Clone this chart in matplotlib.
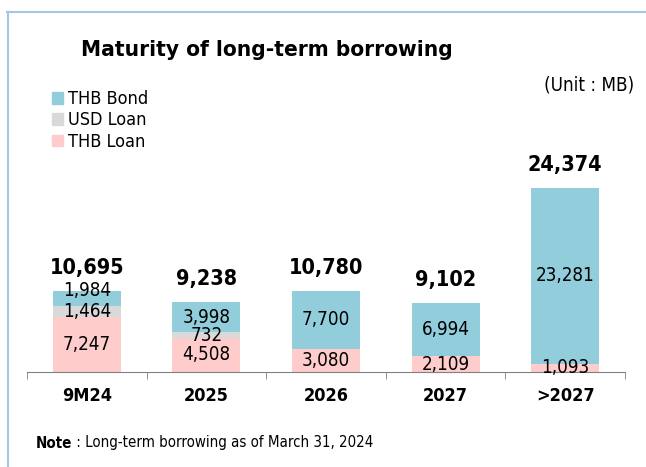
import matplotlib
matplotlib.use('Agg')
import matplotlib.pyplot as plt
from matplotlib.lines import Line2D
from matplotlib.patches import Patch
import numpy as np

categories = ['9M24', '2025', '2026', '2027', '>2027']
thb_loan = [7247, 4508, 3080, 2109, 1093]
usd_loan = [1464, 732, 0, 0, 0]
thb_bond = [1984, 3998, 7700, 6994, 23281]
totals = [10695, 9238, 10780, 9102, 24374]

C_BOND = '#92CDDC'
C_USD = '#D9D9D9'
C_THB = '#FFCCCC'

# condensed DejaVu is the nearest thing to the narrow Tahoma look
plt.rcParams['font.family'] = 'DejaVu Sans'
plt.rcParams['font.stretch'] = 'condensed'

fig = plt.figure(figsize=(6.46, 4.67), dpi=100)
W, H = 646, 467

# axes placed in pixel terms: x from 27 to 625, baseline at y=372
ax = fig.add_axes([27 / W, (H - 372) / H, (625 - 27) / W, 226.5 / H])
x = np.arange(len(categories))
bw = 0.57
ax.bar(x, thb_loan, bw, color=C_THB)
ax.bar(x, usd_loan, bw, bottom=thb_loan, color=C_USD)
b2 = np.array(thb_loan) + np.array(usd_loan)
ax.bar(x, thb_bond, bw, bottom=b2, color=C_BOND)
ax.set_xlim(-0.5, 4.5)
ax.set_ylim(0, 30000)

# segment labels (centred, small nudge in px for the crowded top one)
nudge_bond = [-8, 0, 0, 0, 0]
for i in range(len(categories)):
    ax.annotate(f'{thb_loan[i]:,}', (x[i], thb_loan[i] / 2), ha='center', va='center',
                fontsize=13.5)
    if usd_loan[i]:
        ax.annotate(f'{usd_loan[i]:,}', (x[i], thb_loan[i] + usd_loan[i] / 2),
                    ha='center', va='center', fontsize=13.5)
    ax.annotate(f'{thb_bond[i]:,}', (x[i], b2[i] + thb_bond[i] / 2), xytext=(0, -nudge_bond[i]),
                textcoords='offset pixels', ha='center', va='center', fontsize=13.5)
    ax.annotate(f'{totals[i]:,}', (x[i], totals[i]), xytext=(0, 23), textcoords='offset pixels',
                ha='center', va='center', fontsize=15.5, fontweight='bold')

for s in ['top', 'right', 'left']:
    ax.spines[s].set_visible(False)
ax.spines['bottom'].set_color('#808080')
ax.set_yticks([])
ax.set_xticks(x)
ax.set_xticklabels(categories, fontsize=13, fontweight='bold')
ax.tick_params(axis='x', which='major', length=0, pad=11)
ax.set_xticks(np.arange(-0.5, 5, 1), minor=True)
ax.tick_params(axis='x', which='minor', length=5, color='#808080')

fig.text(267 / W, 1 - 50 / H, 'Maturity of long-term borrowing', ha='center', va='center',
         fontsize=16.2, fontweight='bold')
fig.text(634 / W, 1 - 85 / H, '(Unit : MB)', ha='right', va='center', fontsize=13.5)

handles = [Patch(color=C_BOND), Patch(color=C_USD), Patch(color=C_THB)]
fig.legend(handles, ['THB Bond', 'USD Loan', 'THB Loan'], loc='upper left',
           bbox_to_anchor=(45 / W, 1 - 83 / H), frameon=False, handlelength=0.6,
           handleheight=0.6, handletextpad=0.3, labelspacing=0.18, borderaxespad=0,
           prop={'size': 13})

t = fig.text(36 / W, 1 - 443 / H, 'Note', ha='left', va='center', fontsize=10.8,
             fontweight='bold')
ax.annotate(' : Long-term borrowing as of March 31, 2024', xy=(1, 0.5), xycoords=t,
            ha='left', va='center', fontsize=10.8, annotation_clip=False)

# frame lines (top and left only)
bc = '#A8C4E4'
fig.add_artist(Line2D([7 / W, 1], [1 - 12 / H, 1 - 12 / H], color=bc, lw=1.5,
                      transform=fig.transFigure))
fig.add_artist(Line2D([8 / W, 8 / W], [1 - 12 / H, 0], color=bc, lw=1.5,
                      transform=fig.transFigure))

fig.savefig('out.png', dpi=100)
